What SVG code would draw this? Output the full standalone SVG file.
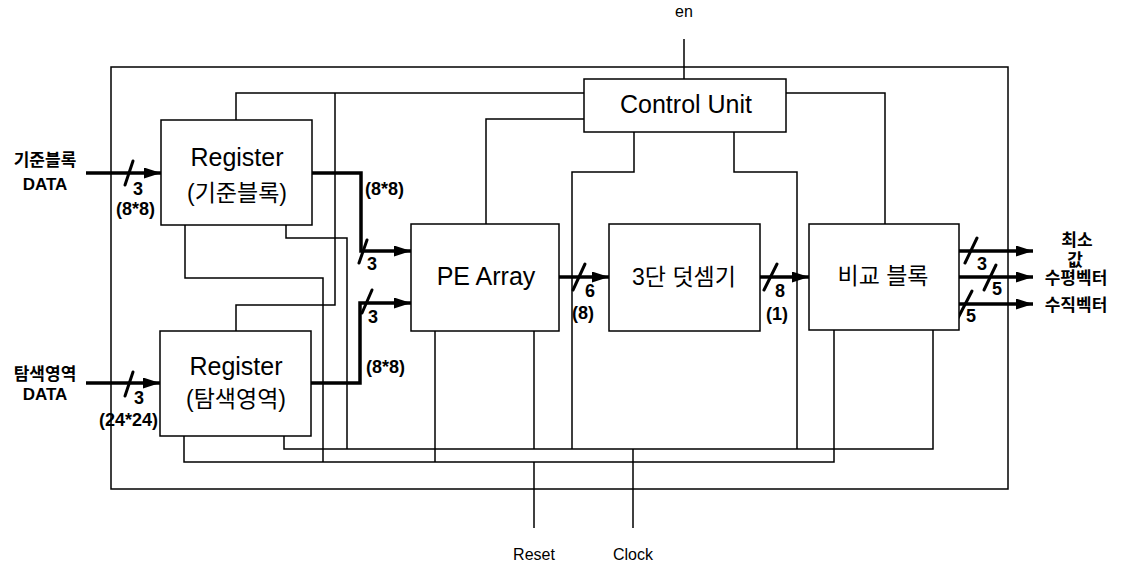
<svg xmlns="http://www.w3.org/2000/svg" width="1123" height="565" viewBox="0 0 1123 565">
<defs>
<style>
.thin{fill:none;stroke:#000;stroke-width:1.5}
.thick{fill:none;stroke:#000;stroke-width:3.5}
.slash{stroke:#000;stroke-width:3;stroke-linecap:round}
.box{fill:#fff;stroke:#000;stroke-width:1.5}
text{font-family:"Liberation Sans","Noto Sans CJK KR",sans-serif;fill:#000}
.big{font-size:25px}
.kbig{font-size:23px}
.lbl{font-size:17px;font-weight:bold}
.num{font-size:18px;font-weight:bold}
.sig{font-size:16px}
</style>
<marker id="arr" markerUnits="userSpaceOnUse" markerWidth="17" markerHeight="11" refX="17" refY="5.5" orient="auto">
<path d="M0,0 L17,5.5 L0,11 z" fill="#000"/>
</marker>
</defs>
<rect width="1123" height="565" fill="#fff"/>

<g id="connectors">
<rect class="thin" x="111" y="67" width="897" height="422"/>
<path class="thin" d="M684,39 V79"/>
<path class="thin" d="M584,93 H236 V120"/>
<path class="thin" d="M335,93 V305 H236 V331"/>
<path class="thin" d="M486,224 V119 H584"/>
<path class="thin" d="M786,93 H885 V224"/>
<path class="thin" d="M634,132 V172 H572 V449"/>
<path class="thin" d="M734,132 V172 H797 V449"/>
<path class="thin" d="M185,225 V278 H323 V462"/>
<path class="thin" d="M286,225 V238 H347 V449"/>
<path class="thin" d="M184,436 V462 H834 V330"/>
<path class="thin" d="M284,436 V449 H933 V330"/>
<path class="thin" d="M435,331 V462"/>
<path class="thin" d="M534,331 V449"/>
<path class="thin" d="M534,462 V528"/>
<path class="thin" d="M633,449 V528"/>

<path class="thick" d="M86,173 H161" marker-end="url(#arr)"/>
<path class="thick" d="M86,383 H160" marker-end="url(#arr)"/>
<path class="thick" d="M312,173 H361 V251 H411" marker-end="url(#arr)"/>
<path class="thick" d="M311,383 H360 V303 H411" marker-end="url(#arr)"/>
<path class="thick" d="M559,277 H609" marker-end="url(#arr)"/>
<path class="thick" d="M760,277 H809" marker-end="url(#arr)"/>
<path class="thick" d="M959,251 H1033" marker-end="url(#arr)"/>
<path class="thick" d="M959,277 H1033" marker-end="url(#arr)"/>
<path class="thick" d="M959,304 H1033" marker-end="url(#arr)"/>

<line class="slash" x1="125" y1="185" x2="133" y2="161"/>
<line class="slash" x1="125" y1="396" x2="133" y2="372"/>
<line class="slash" x1="359" y1="263" x2="367" y2="240"/>
<line class="slash" x1="362" y1="313" x2="372" y2="290"/>
<line class="slash" x1="573" y1="290" x2="585" y2="264"/>
<line class="slash" x1="764" y1="290" x2="777" y2="264"/>
<line class="slash" x1="965" y1="263" x2="977" y2="238"/>
<line class="slash" x1="984" y1="290" x2="996" y2="265"/>
<line class="slash" x1="958" y1="318" x2="972" y2="291"/>

<text class="num" x="133" y="195">3</text>
<text class="num" x="116" y="215">(8*8)</text>
<text class="num" x="134" y="404">3</text>
<text class="num" x="99" y="426">(24*24)</text>
<text class="num" x="365" y="195">(8*8)</text>
<text class="num" x="367" y="270">3</text>
<text class="num" x="366" y="373">(8*8)</text>
<text class="num" x="368" y="323">3</text>
<text class="num" x="585" y="297">6</text>
<text class="num" x="572" y="319">(8)</text>
<text class="num" x="775" y="297">8</text>
<text class="num" x="766" y="320">(1)</text>
<text class="num" x="977" y="270">3</text>
<text class="num" x="992" y="295">5</text>
<text class="num" x="966" y="322">5</text>
</g>

<g id="reg1">
<rect class="box" x="161" y="120" width="151" height="105"/>
<text class="big" x="237" y="166" text-anchor="middle">Register</text>
<text class="kbig" x="237" y="201" text-anchor="middle">(기준블록)</text>
</g>
<g id="reg2">
<rect class="box" x="160" y="331" width="151" height="105"/>
<text class="big" x="236" y="375" text-anchor="middle">Register</text>
<text class="kbig" x="236" y="407" text-anchor="middle">(탐색영역)</text>
</g>
<g id="control">
<rect class="box" x="584" y="79" width="202" height="53"/>
<text class="big" x="686" y="113" text-anchor="middle">Control Unit</text>
</g>
<g id="pe">
<rect class="box" x="411" y="224" width="148" height="107"/>
<text class="big" x="486" y="285" text-anchor="middle">PE Array</text>
</g>
<g id="adder">
<rect class="box" x="609" y="224" width="151" height="107"/>
<text class="kbig" x="684" y="285" text-anchor="middle">3단 덧셈기</text>
</g>
<g id="compare">
<rect class="box" x="809" y="224" width="150" height="106"/>
<text class="kbig" x="883" y="284" text-anchor="middle">비교 블록</text>
</g>

<g id="labels">
<text class="lbl" x="45" y="166" text-anchor="middle">기준블록</text>
<text class="lbl" x="45" y="190" text-anchor="middle">DATA</text>
<text class="lbl" x="45" y="380" text-anchor="middle">탐색영역</text>
<text class="lbl" x="45" y="400" text-anchor="middle">DATA</text>
<text class="lbl" x="1077" y="246" text-anchor="middle">최소</text>
<text class="lbl" x="1075" y="266" text-anchor="middle">값</text>
<text class="lbl" x="1076" y="284" text-anchor="middle">수평벡터</text>
<text class="lbl" x="1076" y="311" text-anchor="middle">수직벡터</text>
<text class="sig" x="684" y="17" text-anchor="middle">en</text>
<text class="sig" x="534" y="560" text-anchor="middle">Reset</text>
<text class="sig" x="633" y="560" text-anchor="middle">Clock</text>
</g>
</svg>
